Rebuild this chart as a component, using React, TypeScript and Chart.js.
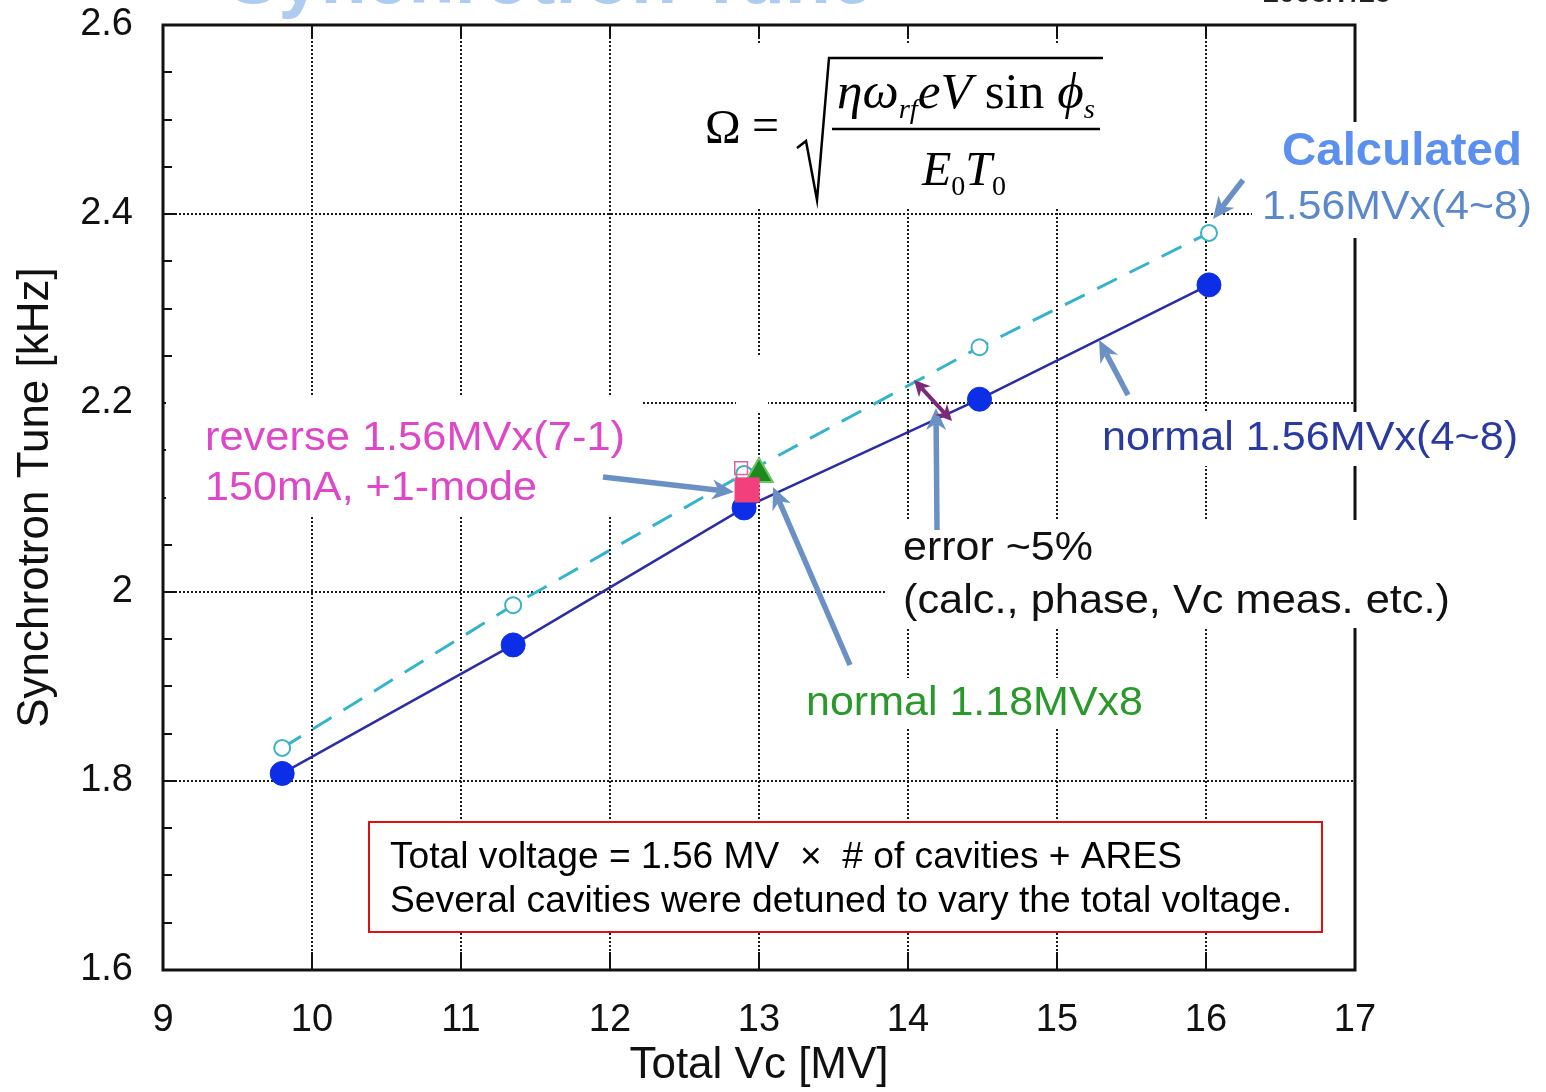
import React, { useEffect, useRef } from 'react';
import { Chart, registerables } from 'chart.js';

Chart.register(...registerables);

const FONT = '"Liberation Sans", Arial, Helvetica, sans-serif';
const SERIF = '"Liberation Serif", "Times New Roman", serif';

// ---- data ----
const measVc = [9.8, 11.35, 12.9, 14.48, 16.02];
const measTune = [1.808, 1.944, 2.089, 2.204, 2.325];
const calcVc = [9.8, 11.35, 12.9, 14.48, 16.02];
const calcTune = [1.835, 1.986, 2.125, 2.259, 2.38];
const n118Vc = [13.0];
const n118Tune = [2.125];
const revVc = [12.92];
const revTune = [2.108];
const revCalcVc = [12.88];
const revCalcTune = [2.131];

const xTitle = 'Total Vc [MV]';
const yTitle = 'Synchrotron Tune [kHz]';
const xMin = 9, xMax = 17, xStep = 1;
const yMin = 1.6, yMax = 2.6, yMajor = 0.2, yMinor = 0.05;

const pts = (xs: number[], ys: number[]) => xs.map((x, i) => ({ x, y: ys[i] }));

function fitText(ctx: CanvasRenderingContext2D, text: string, x: number, yMid: number, width: number, size: number, color: string, weight = 'normal') {
  ctx.save();
  ctx.font = `${weight} ${size}px ${FONT}`;
  const w = ctx.measureText(text).width;
  ctx.translate(x, yMid);
  ctx.scale(width / w, 1);
  ctx.fillStyle = color;
  ctx.textBaseline = 'middle';
  ctx.textAlign = 'left';
  ctx.fillText(text, 0, 0);
  ctx.restore();
}

function whiteBox(ctx: CanvasRenderingContext2D, x1: number, y1: number, x2: number, y2: number) {
  ctx.fillStyle = '#ffffff';
  ctx.fillRect(x1, y1, x2 - x1, y2 - y1);
}

function arrow(ctx: CanvasRenderingContext2D, x1: number, y1: number, x2: number, y2: number, color: string, lw: number, hl: number, hw: number, double = false) {
  const ang = Math.atan2(y2 - y1, x2 - x1);
  const head = (tx: number, ty: number, a: number) => {
    ctx.beginPath();
    ctx.moveTo(tx, ty);
    ctx.lineTo(tx - hl * Math.cos(a) + hw / 2 * Math.sin(a), ty - hl * Math.sin(a) - hw / 2 * Math.cos(a));
    ctx.lineTo(tx - hl * 0.7 * Math.cos(a), ty - hl * 0.7 * Math.sin(a));
    ctx.lineTo(tx - hl * Math.cos(a) - hw / 2 * Math.sin(a), ty - hl * Math.sin(a) + hw / 2 * Math.cos(a));
    ctx.closePath();
    ctx.fill();
  };
  ctx.save();
  ctx.strokeStyle = color;
  ctx.fillStyle = color;
  ctx.lineWidth = lw;
  ctx.lineCap = 'butt';
  const sx = double ? x1 + hl * 0.7 * Math.cos(ang) : x1;
  const sy = double ? y1 + hl * 0.7 * Math.sin(ang) : y1;
  ctx.beginPath();
  ctx.moveTo(sx, sy);
  ctx.lineTo(x2 - hl * 0.7 * Math.cos(ang), y2 - hl * 0.7 * Math.sin(ang));
  ctx.stroke();
  head(x2, y2, ang);
  if (double) head(x1, y1, ang + Math.PI);
  ctx.restore();
}

const isMajor = (v: number) => Math.abs(v / yMajor - Math.round(v / yMajor)) < 1e-6;

const annotPlugin = {
  id: 'annot',
  beforeDatasetsDraw(chart: any) {
    const ctx: CanvasRenderingContext2D = chart.ctx;
    const { left, right, top, bottom } = chart.chartArea;
    const xs = chart.scales.x;
    const ys = chart.scales.y;
    ctx.save();
    // cut-off slide title and date
    ctx.fillStyle = '#aecbf0';
    ctx.font = `bold 78px ${FONT}`;
    ctx.textBaseline = 'alphabetic';
    ctx.fillText('Synchrotron Tune', 228, 3, 645);
    ctx.fillStyle = '#222';
    ctx.font = `bold 30px ${FONT}`;
    ctx.fillText('2005/7/25', 1263, 2, 128);

    // frame
    ctx.strokeStyle = '#111';
    ctx.lineWidth = 3;
    ctx.strokeRect(left, top, right - left, bottom - top);
    // minor ticks on left axis
    ctx.lineWidth = 2;
    for (let v = yMin; v <= yMax + 1e-9; v += yMinor) {
      const py = Math.round(ys.getPixelForValue(v));
      ctx.beginPath();
      ctx.moveTo(left, py);
      ctx.lineTo(left + (isMajor(v) ? 14 : 9), py);
      ctx.stroke();
    }
    // inward x ticks
    for (let v = xMin; v <= xMax + 1e-9; v += xStep) {
      const px = Math.round(xs.getPixelForValue(v));
      ctx.beginPath();
      ctx.moveTo(px, bottom);
      ctx.lineTo(px, bottom - 18);
      ctx.moveTo(px, top);
      ctx.lineTo(px, top + 12);
      ctx.stroke();
    }

    // white boxes behind labels
    whiteBox(ctx, 695, 45, 1110, 207);
    whiteBox(ctx, 1252, 122, 1540, 238);
    whiteBox(ctx, 166, 396, 642, 515);
    whiteBox(ctx, 1090, 412, 1530, 466);
    whiteBox(ctx, 885, 520, 1458, 628);
    whiteBox(ctx, 795, 678, 1152, 728);
    whiteBox(ctx, 736, 355, 768, 412);

    // red note box
    whiteBox(ctx, 369, 822, 1322, 932);
    ctx.strokeStyle = '#e01010';
    ctx.lineWidth = 2;
    ctx.strokeRect(369, 822, 1322 - 369, 932 - 822);

    // labels
    fitText(ctx, 'Calculated', 1282, 152, 240, 46, '#5b90ee', 'bold');
    fitText(ctx, '1.56MVx(4~8)', 1262, 208, 270, 41, '#5a88c8');
    fitText(ctx, 'normal 1.56MVx(4~8)', 1102, 439, 416, 41, '#2b3aa2');
    fitText(ctx, 'reverse 1.56MVx(7-1)', 205, 439, 420, 41, '#de48c8');
    fitText(ctx, '150mA, +1-mode', 205, 489, 332, 41, '#de48c8');
    fitText(ctx, 'error ~5%', 903, 549, 190, 41, '#111');
    fitText(ctx, '(calc., phase, Vc meas. etc.)', 903, 602, 547, 41, '#111');
    fitText(ctx, 'normal 1.18MVx8', 806, 704, 337, 41, '#2a982a');
    fitText(ctx, 'Total voltage = 1.56 MV  \u00d7  # of cavities + ARES', 390, 858, 792, 36, '#000');
    fitText(ctx, 'Several cavities were detuned to vary the total voltage.', 390, 902, 902, 36, '#000');

    // formula
    ctx.fillStyle = '#000';
    ctx.strokeStyle = '#000';
    ctx.textBaseline = 'alphabetic';
    ctx.font = `48px ${SERIF}`;
    ctx.fillText('\u03a9', 705, 143);
    ctx.fillText('=', 752, 141);
    ctx.lineWidth = 2.5;
    ctx.beginPath();
    ctx.moveTo(797, 148);
    ctx.lineTo(806, 141);
    ctx.lineTo(817, 200);
    ctx.lineTo(829, 58);
    ctx.lineTo(1103, 58);
    ctx.stroke();
    ctx.beginPath();
    ctx.moveTo(832, 129);
    ctx.lineTo(1100, 129);
    ctx.stroke();
    // numerator
    const parts: [string, string, number][] = [
      ['\u03b7\u03c9', `italic 50px ${SERIF}`, 0],
      ['rf', `italic 28px ${SERIF}`, 10],
      ['eV', `italic 50px ${SERIF}`, 0],
      [' sin ', `50px ${SERIF}`, 0],
      ['\u03d5', `italic 50px ${SERIF}`, 0],
      ['s', `italic 28px ${SERIF}`, 10],
    ];
    let tw = 0;
    for (const [t, f] of parts) { ctx.font = f; tw += ctx.measureText(t).width; }
    const sc = 258 / tw;
    ctx.save();
    ctx.translate(837, 108);
    ctx.scale(sc, 1);
    let cx = 0;
    for (const [t, f, dy] of parts) { ctx.font = f; ctx.fillText(t, cx, dy); cx += ctx.measureText(t).width; }
    ctx.restore();
    // denominator
    const dparts: [string, string, number][] = [
      ['E', `italic 48px ${SERIF}`, 0],
      ['0', `28px ${SERIF}`, 10],
      ['T', `italic 48px ${SERIF}`, 0],
      ['0', `28px ${SERIF}`, 10],
    ];
    cx = 922;
    for (const [t, f, dy] of dparts) { ctx.font = f; ctx.fillText(t, cx, 185 + dy); cx += ctx.measureText(t).width; }
    ctx.restore();
  },
  afterDatasetsDraw(chart: any) {
    const ctx: CanvasRenderingContext2D = chart.ctx;
    const blue = '#6b91c4';
    arrow(ctx, 1243, 180, 1213, 219, blue, 5.5, 22, 20);
    arrow(ctx, 1128, 395, 1099, 340, blue, 5.5, 22, 20);
    arrow(ctx, 603, 477, 734, 492, blue, 5.5, 22, 20);
    arrow(ctx, 850, 665, 773, 487, blue, 5.5, 22, 20);
    arrow(ctx, 937, 530, 936, 408, blue, 5.5, 22, 20);
    arrow(ctx, 914, 380, 952, 421, '#7b2a78', 4, 16, 16, true);
  },
};

export default function App() {
  const ref = useRef<HTMLCanvasElement>(null);
  useEffect(() => {
    document.body.style.margin = '0';
    const canvas = ref.current!;
    const chart = new Chart(canvas, {
      type: 'scatter',
      data: {
        datasets: [
          {
            label: 'reverse 1.56MVx(7-1)',
            data: pts(revVc, revTune),
            pointStyle: 'rect',
            pointRadius: 17,
            backgroundColor: '#f2407c',
            borderColor: '#f2407c',
            borderWidth: 1,
            showLine: false,
          },
          {
            label: 'normal 1.18MVx8',
            data: pts(n118Vc, n118Tune),
            pointStyle: 'triangle',
            pointRadius: 16,
            backgroundColor: '#1d8a1d',
            borderColor: '#6cc46c',
            borderWidth: 2,
            showLine: false,
          },
          {
            label: 'normal 1.56MVx(4~8)',
            data: pts(measVc, measTune),
            showLine: true,
            borderColor: '#2c2ca6',
            borderWidth: 2.5,
            pointRadius: 12,
            pointBackgroundColor: '#0c2ee6',
            pointBorderColor: '#0c2ee6',
            pointBorderWidth: 1,
          },
          {
            label: 'reverse calc',
            data: pts(revCalcVc, revCalcTune),
            pointStyle: 'rect',
            pointRadius: 9,
            backgroundColor: 'rgba(0,0,0,0)',
            borderColor: '#e060a0',
            borderWidth: 1.5,
            showLine: false,
          },
          {
            label: 'Calculated 1.56MVx(4~8)',
            data: pts(calcVc, calcTune),
            showLine: true,
            borderColor: '#34b4cc',
            borderDash: [22, 14],
            borderWidth: 3,
            pointRadius: 8,
            pointBackgroundColor: '#ffffff',
            pointBorderColor: '#3cb0c4',
            pointBorderWidth: 2,
          },
        ],
      },
      options: {
        responsive: false,
        animation: false,
        devicePixelRatio: 1,
        layout: { padding: { left: 0, top: 25, right: 191, bottom: 0 } },
        plugins: { legend: { display: false }, tooltip: { enabled: false } },
        scales: {
          x: {
            type: 'linear',
            position: 'bottom',
            min: xMin,
            max: xMax,
            ticks: { stepSize: xStep, font: { size: 38, family: FONT }, color: '#111', padding: 28, maxRotation: 0, autoSkip: false },
            grid: { color: '#1a1a1a', lineWidth: 2, drawTicks: false },
            border: { display: false, dash: [2, 2] },
            title: { display: true, text: xTitle, font: { size: 44, family: FONT }, color: '#111', padding: { top: 0, bottom: 0 } },
            afterFit: (s: any) => { s.height = 122; s.paddingLeft = 0; s.paddingRight = 0; },
          },
          y: {
            type: 'linear',
            position: 'left',
            min: yMin,
            max: yMax,
            ticks: {
              stepSize: yMinor,
              font: { size: 38, family: FONT },
              color: '#111',
              padding: 30,
              autoSkip: false,
              callback: (v: any) => (isMajor(Number(v)) ? String(Number(Number(v).toFixed(2))) : ''),
            },
            grid: {
              color: (c: any) => (isMajor(c.tick.value) ? '#1a1a1a' : 'rgba(0,0,0,0)'),
              lineWidth: 2,
              drawTicks: false,
            },
            border: { display: false, dash: [2, 2] },
            title: { display: true, text: yTitle, font: { size: 44, family: FONT }, color: '#111', padding: { top: 9, bottom: 0 } },
            afterFit: (s: any) => { s.width = 163; s.paddingTop = 0; s.paddingBottom = 0; },
          },
        },
      },
      plugins: [annotPlugin],
    } as any);
    return () => chart.destroy();
  }, []);
  return (
    <div style={{ position: 'fixed', left: 0, top: 0, width: 1546, height: 1092, background: '#fff' }}>
      <canvas ref={ref} width={1546} height={1092} style={{ display: 'block' }} />
    </div>
  );
}
